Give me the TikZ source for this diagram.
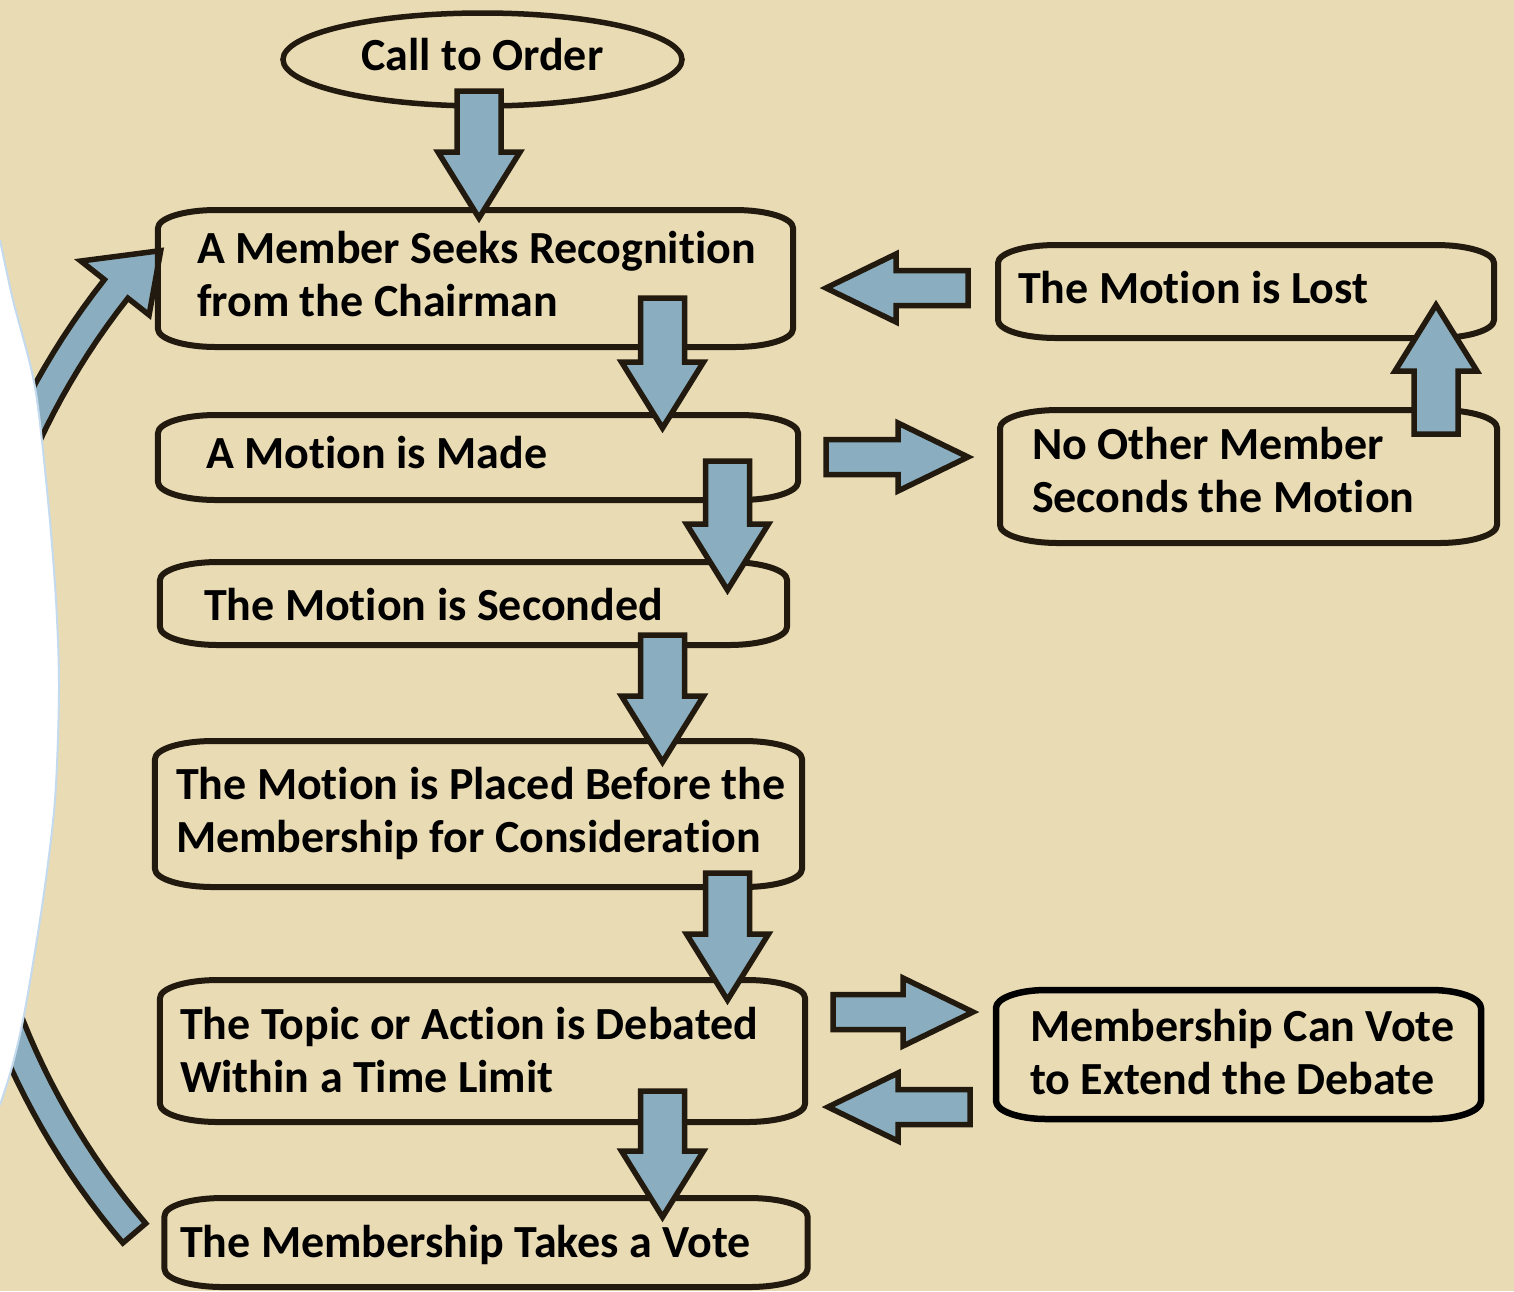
\documentclass[tikz,border=0pt]{standalone}
\usepackage{fontspec}
\setmainfont{Carlito}[Ligatures=CommonOff]
\usetikzlibrary{calc,shapes.geometric}
\definecolor{bg}{RGB}{233,219,180}
\definecolor{ink}{RGB}{34,26,14}
\definecolor{arrowfill}{RGB}{138,174,191}
\definecolor{edgeblue}{RGB}{196,218,238}
\tikzset{
  boxline/.style={draw=ink, line width=6bp, line join=round},
  extline/.style={draw=black, line width=6.5bp, line join=round},
  barrow/.style={draw=ink, fill=arrowfill, line width=5.5bp, line join=miter, miter limit=10},
  boxnode/.style={rectangle, draw=none, inner sep=0pt, outer sep=0pt},
  txt/.style={anchor=north west, inner sep=0pt, outer sep=0pt, align=left, text=black,
              font=\bfseries\fontsize{46bp}{53bp}\selectfont},
}
% block arrow from #1 (tail) to #2 (tip): #3 shaft half width, #4 head half width, #5 head length
\newcommand{\blockarr}[5]{%
  \coordinate (ba-b) at ($(#2)!#5!(#1)$);
  \draw[barrow] ($(#1)!#3!90:(#2)$) -- ($(ba-b)!#3!90:(#2)$) -- ($(ba-b)!#4!90:(#2)$)
     -- (#2) -- ($(ba-b)!#4!-90:(#2)$) -- ($(ba-b)!#3!-90:(#2)$) -- ($(#1)!#3!-90:(#2)$) -- cycle;}
% box outline with elliptic corners round node #1: #2 x radius, #3 y radius, #4 style
\newcommand{\rbox}[4]{%
  \draw[#4] ([yshift=-#3]#1.north west) -- ([yshift=#3]#1.south west)
    arc[start angle=180,end angle=270,x radius=#2,y radius=#3]
    -- ([xshift=-#2]#1.south east)
    arc[start angle=270,end angle=360,x radius=#2,y radius=#3]
    -- ([yshift=-#3]#1.north east)
    arc[start angle=0,end angle=90,x radius=#2,y radius=#3]
    -- ([xshift=#2]#1.north west)
    arc[start angle=90,end angle=180,x radius=#2,y radius=#3] -- cycle;}
\begin{document}
\begin{tikzpicture}[x=1bp,y=-1bp]
\fill[bg] (0,0) rectangle (1514,1291);
\useasboundingbox (0,0) rectangle (1514,1291);

% curved return arrow (partly hidden by the white area)
\draw[barrow] plot[domain=139.5:218.3, samples=60] ({700+729*cos(\x)},{750+729*sin(\x)})
  -- ({700+702*cos(218.3)},{750+702*sin(218.3)})
  -- ({700+735*cos(222.8)},{750+735*sin(222.8)})
  -- ({700+789*cos(218.3)},{750+789*sin(218.3)})
  -- plot[domain=218.3:139.5, samples=60] ({700+759*cos(\x)},{750+759*sin(\x)}) -- cycle;

% white area on the left
\fill[white] (0,240) -- plot[smooth] coordinates {(0,240) (13,300) (35,387) (48,500) (56,600) (59,690) (55,800) (43,900) (25,1010) (12,1067) (0,1105)} -- cycle;
\draw[edgeblue, line width=2bp] plot[smooth] coordinates {(0,240) (13,300) (35,387) (48,500) (56,600) (59,690) (55,800) (43,900) (25,1010) (12,1067) (0,1105)};

% nodes
\node[ellipse, draw=ink, line width=5.5bp, minimum width=399bp, minimum height=93bp, inner sep=0pt,
      text height=31bp, text depth=10bp, font=\bfseries\fontsize{46bp}{53bp}\selectfont] (e0) at (482.5,59.5) {Call to Order};

\node[boxnode, minimum width=635bp, minimum height=137bp] (b1) at (475.5,278.5) {};
\node[boxnode, minimum width=640bp, minimum height=85bp]  (b2) at (478,457.5) {};
\node[boxnode, minimum width=627bp, minimum height=83bp]  (b3) at (473.5,603.5) {};
\node[boxnode, minimum width=647bp, minimum height=146bp] (b4) at (478.5,814) {};
\node[boxnode, minimum width=645bp, minimum height=142bp] (b5) at (482.5,1051) {};
\node[boxnode, minimum width=643bp, minimum height=89bp]  (b6) at (486,1242.5) {};
\node[boxnode, minimum width=496bp, minimum height=93bp]  (bL) at (1246,291.5) {};
\node[boxnode, minimum width=497bp, minimum height=133bp] (bN) at (1248.5,476.5) {};
\node[boxnode, minimum width=485bp, minimum height=129bp] (bE) at (1238.5,1054.5) {};

\foreach \n in {b1,b2,b3,b4,b5,b6,bL,bN} {\rbox{\n}{58bp}{18bp}{boxline}}
\rbox{bE}{50bp}{18bp}{extline}

% texts
\node[txt] (t1) at (197,225.9) {\strut A Member Seeks Recognition\\\strut from the Chairman};
\node[txt] (t2) at (206,430.9) {\strut A Motion is Made};
\node[txt] (t3) at (204,582.9) {\strut The Motion is Seconded};
\node[txt] (t4) at (176,761.9) {\strut The Motion is Placed Before the\\\strut Membership for Consideration};
\node[txt] (t5) at (180,1001.9) {\strut The Topic or Action is Debated\\\strut Within a Time Limit};
\node[txt] (t6) at (180,1219.9) {\strut The Membership Takes a Vote};
\node[txt] (tL) at (1018,265.9) {\strut The Motion is Lost};
\node[txt] (tN) at (1032,421.9) {\strut No Other Member\\\strut Seconds the Motion};
\node[txt] (tE) at (1030,1003.9) {\strut Membership Can Vote\\\strut to Extend the Debate};

% arrow end points
\coordinate (a0s) at (479,91);     \coordinate (a0t) at (479,218);
\coordinate (a1s) at (662.5,298);  \coordinate (a1t) at (662.5,428);
\coordinate (a2s) at (727.5,461);  \coordinate (a2t) at (727.5,590);
\coordinate (a3s) at (662.5,635);  \coordinate (a3t) at (662.5,762);
\coordinate (a4s) at (727.5,873);  \coordinate (a4t) at (727.5,1000);
\coordinate (a5s) at (662.5,1091); \coordinate (a5t) at (662.5,1217);
\coordinate (aLs) at (968,288);    \coordinate (aLt) at (826,288);
\coordinate (aNs) at (826,457);    \coordinate (aNt) at (968,457);
\coordinate (aUs) at (1436,434);   \coordinate (aUt) at (1436,305);
\coordinate (aEs) at (833,1012);   \coordinate (aEt) at (973,1012);
\coordinate (aBs) at (970,1107);   \coordinate (aBt) at (828,1107);

\foreach \a in {a0,a1,a2,a3,a4,a5,aU} {\blockarr{\a s}{\a t}{22bp}{41bp}{66bp}}
\foreach \a in {aL,aN,aE,aB} {\blockarr{\a s}{\a t}{17.5bp}{34bp}{70bp}}
\end{tikzpicture}
\end{document}
